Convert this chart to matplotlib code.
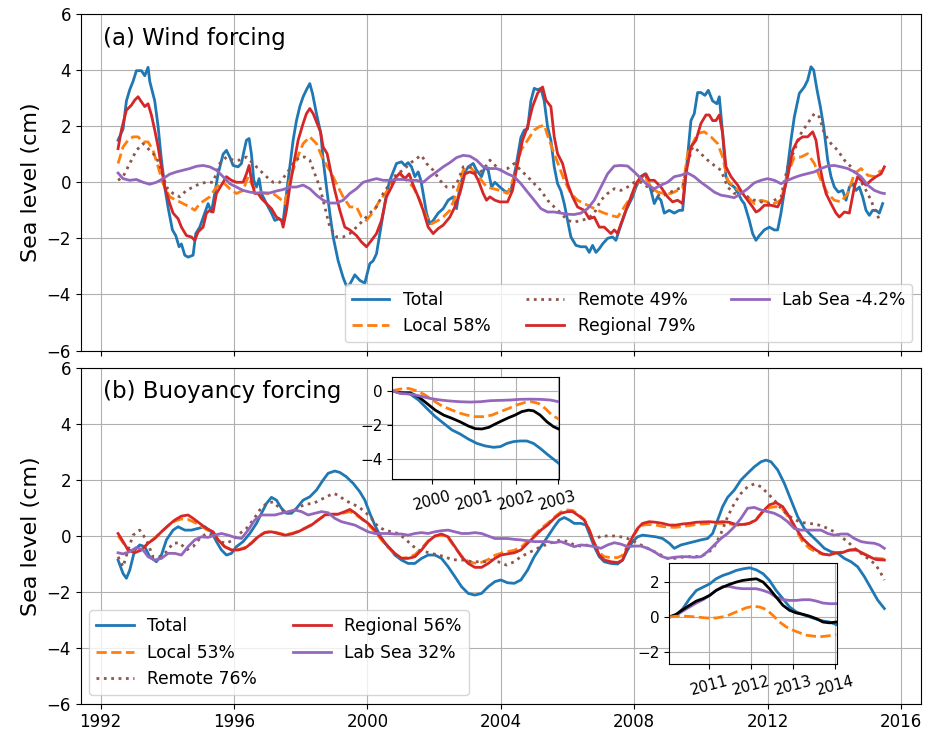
import numpy as np
import matplotlib
matplotlib.use("Agg")
import matplotlib.pyplot as plt

# ---------------- data: (year, sea level cm) ----------------
wind_total = [(1992.52,1.5),(1992.67,1.9),(1992.77,2.9),(1992.87,3.3),(1992.97,3.6),(1993.07,3.98),(1993.22,3.98),(1993.32,3.8),(1993.42,4.1),(1993.47,3.6),(1993.62,2.9),(1993.72,2.0),(1993.82,0.8),(1993.92,-0.17),(1994.02,-0.9),(1994.15,-1.7),(1994.25,-1.9),(1994.35,-2.3),(1994.42,-2.2),(1994.52,-2.6),(1994.62,-2.67),(1994.77,-2.6),(1994.85,-1.83),(1994.97,-1.6),(1995.12,-1.1),(1995.22,-0.76),(1995.32,-1.06),(1995.42,-0.4),(1995.52,0.3),(1995.67,1.0),(1995.77,1.14),(1995.87,0.9),(1995.97,0.6),(1996.12,0.55),(1996.22,0.67),(1996.29,1.08),(1996.37,1.5),(1996.45,1.56),(1996.52,1.0),(1996.59,0.07),(1996.67,-0.17),(1996.75,0.13),(1996.82,-0.4),(1996.97,-0.76),(1997.12,-1.1),(1997.22,-1.36),(1997.35,-1.3),(1997.47,-1.4),(1997.57,-0.4),(1997.67,0.55),(1997.77,1.5),(1997.87,2.2),(1997.97,2.7),(1998.07,3.05),(1998.17,3.3),(1998.27,3.52),(1998.35,3.17),(1998.47,2.45),(1998.60,1.74),(1998.67,0.8),(1998.77,-0.17),(1998.87,-1.1),(1998.97,-1.95),(1999.12,-2.8),(1999.27,-3.4),(1999.37,-3.7),(1999.47,-3.64),(1999.62,-3.3),(1999.77,-3.5),(1999.92,-3.6),(1999.99,-3.26),(2000.07,-2.9),(2000.17,-2.8),(2000.27,-2.55),(2000.37,-1.83),(2000.47,-1.1),(2000.57,-0.4),(2000.67,0.07),(2000.79,0.43),(2000.87,0.67),(2001.02,0.73),(2001.12,0.6),(2001.22,0.7),(2001.32,0.55),(2001.42,0.2),(2001.52,0.37),(2001.60,0.07),(2001.67,-0.4),(2001.77,-1.1),(2001.87,-1.48),(2001.97,-1.36),(2002.12,-1.1),(2002.27,-0.94),(2002.42,-0.64),(2002.57,-0.52),(2002.67,-0.94),(2002.77,-0.17),(2002.87,0.25),(2003.02,0.55),(2003.17,0.67),(2003.27,0.43),(2003.42,0.2),(2003.52,0.55),(2003.62,0.43),(2003.72,-0.17),(2003.82,0.0),(2003.97,-0.17),(2004.15,-0.35),(2004.30,-0.3),(2004.45,0.55),(2004.60,1.6),(2004.70,1.86),(2004.80,1.9),(2004.90,2.9),(2005.00,3.35),(2005.10,3.3),(2005.20,3.35),(2005.30,2.9),(2005.40,1.98),(2005.50,1.5),(2005.60,0.55),(2005.70,-0.05),(2005.80,-0.3),(2005.90,-0.76),(2006.00,-1.36),(2006.10,-1.95),(2006.25,-2.25),(2006.40,-2.3),(2006.55,-2.3),(2006.65,-2.5),(2006.75,-2.25),(2006.85,-2.5),(2006.95,-2.37),(2007.05,-2.2),(2007.20,-2.0),(2007.35,-1.95),(2007.45,-2.07),(2007.55,-1.7),(2007.65,-1.36),(2007.75,-1.0),(2007.85,-0.76),(2007.95,-0.52),(2008.05,-0.17),(2008.20,0.2),(2008.32,0.3),(2008.40,0.07),(2008.50,-0.29),(2008.60,-0.76),(2008.70,-0.52),(2008.80,-0.64),(2008.90,-1.1),(2009.05,-1.0),(2009.20,-1.1),(2009.35,-1.0),(2009.45,-1.0),(2009.55,0.3),(2009.70,2.2),(2009.80,2.45),(2009.90,3.2),(2010.00,3.2),(2010.12,3.1),(2010.22,3.28),(2010.35,2.9),(2010.48,2.8),(2010.55,3.05),(2010.65,1.74),(2010.75,0.2),(2010.85,-0.05),(2011.00,-0.17),(2011.12,-0.4),(2011.22,-0.64),(2011.30,-0.76),(2011.45,-1.36),(2011.55,-1.83),(2011.65,-2.07),(2011.75,-1.9),(2011.90,-1.7),(2012.05,-1.6),(2012.20,-1.7),(2012.30,-1.7),(2012.40,-1.1),(2012.55,0.07),(2012.70,1.5),(2012.80,2.33),(2012.95,3.17),(2013.10,3.4),(2013.20,3.64),(2013.30,4.12),(2013.38,4.0),(2013.48,3.3),(2013.58,2.7),(2013.68,1.98),(2013.80,0.8),(2013.90,0.2),(2014.00,-0.17),(2014.12,-0.35),(2014.25,-0.29),(2014.35,-0.64),(2014.45,-0.17),(2014.55,-0.05),(2014.65,-0.29),(2014.75,-0.17),(2014.85,-0.52),(2014.95,-1.0),(2015.05,-1.18),(2015.15,-1.0),(2015.25,-1.0),(2015.35,-1.1),(2015.45,-0.76)]

wind_local = [(1992.52,0.67),(1992.67,1.26),(1992.82,1.5),(1992.97,1.62),(1993.12,1.62),(1993.27,1.44),(1993.42,1.44),(1993.57,1.14),(1993.72,0.55),(1993.87,-0.05),(1994.07,-0.52),(1994.27,-0.64),(1994.47,-0.76),(1994.67,-0.88),(1994.82,-1.0),(1994.97,-0.76),(1995.12,-0.64),(1995.27,-0.52),(1995.47,-0.17),(1995.67,0.0),(1995.87,-0.23),(1996.07,-0.4),(1996.27,-0.29),(1996.42,0.2),(1996.57,-0.17),(1996.77,-0.35),(1996.97,-0.4),(1997.17,-0.4),(1997.37,-0.58),(1997.52,-0.76),(1997.67,0.07),(1997.87,0.8),(1998.07,1.38),(1998.27,1.62),(1998.47,1.38),(1998.67,0.8),(1998.87,0.43),(1999.07,-0.05),(1999.27,-0.52),(1999.47,-0.88),(1999.67,-0.88),(1999.82,-1.24),(1999.97,-1.36),(2000.17,-1.06),(2000.37,-0.64),(2000.57,-0.35),(2000.77,0.07),(2000.97,0.3),(2001.17,0.07),(2001.37,-0.17),(2001.57,-0.64),(2001.77,-1.24),(2001.92,-1.48),(2002.12,-1.36),(2002.27,-1.24),(2002.47,-1.0),(2002.67,-0.4),(2002.87,0.43),(2003.07,0.55),(2003.27,0.3),(2003.42,0.07),(2003.57,-0.17),(2003.77,-0.23),(2003.97,-0.29),(2004.2,-0.4),(2004.4,0.2),(2004.6,1.14),(2004.8,1.5),(2005.0,1.86),(2005.15,1.98),(2005.3,2.04),(2005.45,1.5),(2005.6,1.02),(2005.75,0.55),(2005.9,0.07),(2006.1,-0.4),(2006.3,-0.64),(2006.5,-0.76),(2006.7,-0.88),(2006.9,-1.0),(2007.1,-1.1),(2007.3,-1.18),(2007.5,-1.24),(2007.7,-0.88),(2007.9,-0.52),(2008.1,0.0),(2008.3,0.25),(2008.5,-0.17),(2008.7,-0.35),(2008.9,-0.4),(2009.1,-0.4),(2009.3,-0.29),(2009.45,-0.23),(2009.6,1.02),(2009.75,1.38),(2009.9,1.74),(2010.1,1.8),(2010.3,1.62),(2010.5,1.38),(2010.65,0.9),(2010.8,0.07),(2011.0,-0.17),(2011.2,-0.35),(2011.4,-0.52),(2011.6,-0.76),(2011.8,-0.64),(2012.0,-0.7),(2012.2,-0.76),(2012.4,-0.64),(2012.6,0.3),(2012.8,0.9),(2013.0,0.9),(2013.2,1.02),(2013.4,0.67),(2013.6,0.07),(2013.8,-0.4),(2014.0,-0.64),(2014.2,-0.7),(2014.4,-0.4),(2014.6,0.3),(2014.8,0.49),(2015.0,0.25),(2015.2,0.2),(2015.4,0.43)]

wind_remote = [(1992.52,0.07),(1992.67,0.2),(1992.87,0.67),(1993.07,1.14),(1993.27,1.38),(1993.47,1.14),(1993.67,0.9),(1993.82,0.43),(1993.97,-0.17),(1994.17,-0.4),(1994.37,-0.52),(1994.57,-0.29),(1994.77,-0.17),(1994.97,-0.05),(1995.17,0.0),(1995.37,0.0),(1995.57,0.67),(1995.77,0.9),(1995.97,0.79),(1996.17,0.79),(1996.37,0.9),(1996.57,0.67),(1996.77,0.43),(1996.97,0.2),(1997.17,0.0),(1997.37,0.0),(1997.57,0.3),(1997.77,0.67),(1997.97,0.9),(1998.12,0.9),(1998.27,0.79),(1998.42,0.3),(1998.57,-0.17),(1998.72,-0.88),(1998.87,-1.6),(1999.07,-1.95),(1999.27,-1.95),(1999.47,-1.83),(1999.67,-1.6),(1999.87,-1.36),(2000.07,-1.1),(2000.27,-0.88),(2000.47,-0.4),(2000.67,-0.05),(2000.87,0.3),(2001.07,0.43),(2001.27,0.67),(2001.47,0.85),(2001.62,0.96),(2001.77,0.67),(2001.97,0.43),(2002.17,0.07),(2002.37,-0.17),(2002.57,-0.17),(2002.72,0.07),(2002.87,0.55),(2003.07,0.55),(2003.27,0.3),(2003.47,0.43),(2003.67,0.79),(2003.87,0.55),(2004.0,0.43),(2004.2,0.49),(2004.4,0.67),(2004.6,0.43),(2004.8,0.2),(2005.0,-0.05),(2005.2,-0.29),(2005.4,-0.64),(2005.6,-0.88),(2005.8,-1.1),(2006.0,-1.36),(2006.2,-1.42),(2006.4,-1.36),(2006.6,-1.3),(2006.8,-1.1),(2007.0,-0.64),(2007.2,-0.4),(2007.4,-0.23),(2007.6,-0.29),(2007.8,-0.17),(2008.0,0.0),(2008.2,0.0),(2008.4,-0.17),(2008.6,-0.35),(2008.8,-0.52),(2009.0,-0.4),(2009.2,-0.29),(2009.45,-0.17),(2009.6,0.67),(2009.75,1.26),(2009.9,1.14),(2010.05,0.96),(2010.2,0.79),(2010.4,0.6),(2010.6,0.43),(2010.8,-0.17),(2011.0,-0.4),(2011.2,-0.35),(2011.4,-0.52),(2011.6,-0.64),(2011.8,-0.7),(2012.0,-0.76),(2012.2,-0.64),(2012.4,-0.52),(2012.6,0.55),(2012.8,1.14),(2013.0,1.74),(2013.2,2.1),(2013.4,2.45),(2013.55,2.33),(2013.7,1.74),(2013.9,1.38),(2014.1,1.14),(2014.3,0.79),(2014.5,0.55),(2014.7,0.2),(2014.9,-0.17),(2015.1,-0.64),(2015.25,-1.1),(2015.4,-1.42)]

wind_regional = [(1992.52,1.2),(1992.62,1.86),(1992.77,2.57),(1992.92,2.75),(1993.02,2.93),(1993.12,3.05),(1993.22,2.87),(1993.32,2.7),(1993.42,2.8),(1993.52,2.4),(1993.62,1.86),(1993.72,1.26),(1993.82,0.55),(1993.92,-0.17),(1994.07,-0.76),(1994.17,-1.1),(1994.32,-1.3),(1994.42,-1.6),(1994.57,-1.9),(1994.72,-1.95),(1994.82,-2.07),(1994.92,-1.77),(1995.07,-1.6),(1995.17,-1.1),(1995.27,-1.0),(1995.37,-1.06),(1995.47,-0.4),(1995.62,-0.1),(1995.77,0.2),(1995.92,0.07),(1996.07,0.0),(1996.27,0.0),(1996.37,0.3),(1996.45,0.6),(1996.52,0.07),(1996.62,-0.4),(1996.72,-0.4),(1996.82,-0.58),(1996.97,-0.76),(1997.12,-0.94),(1997.27,-1.24),(1997.42,-1.36),(1997.47,-1.6),(1997.57,-1.0),(1997.67,-0.17),(1997.79,0.67),(1997.92,1.5),(1998.07,2.1),(1998.17,2.45),(1998.27,2.63),(1998.37,2.45),(1998.49,2.1),(1998.59,1.8),(1998.67,1.26),(1998.79,1.02),(1998.89,0.43),(1999.02,-0.29),(1999.17,-1.0),(1999.32,-1.6),(1999.47,-1.7),(1999.67,-1.9),(1999.82,-2.13),(1999.97,-2.3),(2000.12,-2.07),(2000.27,-1.83),(2000.42,-1.36),(2000.57,-0.52),(2000.72,-0.17),(2000.87,0.2),(2000.97,0.33),(2001.12,0.13),(2001.25,0.3),(2001.37,-0.1),(2001.52,-0.52),(2001.67,-1.0),(2001.82,-1.6),(2001.97,-1.83),(2002.12,-1.65),(2002.27,-1.53),(2002.47,-1.24),(2002.62,-0.88),(2002.77,-0.4),(2002.92,0.3),(2003.07,0.37),(2003.22,0.3),(2003.32,0.07),(2003.47,-0.4),(2003.57,-0.64),(2003.67,-0.52),(2003.82,-0.64),(2003.97,-0.7),(2004.2,-0.7),(2004.35,-0.29),(2004.5,0.67),(2004.65,1.5),(2004.8,1.98),(2004.95,2.7),(2005.1,3.17),(2005.25,3.4),(2005.35,2.93),(2005.5,2.7),(2005.6,1.62),(2005.7,1.02),(2005.85,0.67),(2006.0,-0.05),(2006.15,-0.52),(2006.3,-0.88),(2006.5,-1.0),(2006.65,-1.3),(2006.8,-1.24),(2006.95,-1.6),(2007.1,-1.6),(2007.3,-1.83),(2007.4,-1.7),(2007.5,-1.83),(2007.6,-1.48),(2007.75,-1.0),(2007.9,-0.52),(2008.05,-0.05),(2008.2,0.2),(2008.35,0.3),(2008.45,0.07),(2008.6,0.07),(2008.8,-0.17),(2009.0,-0.52),(2009.15,-0.7),(2009.3,-0.64),(2009.45,-0.76),(2009.55,0.3),(2009.7,1.26),(2009.85,1.5),(2010.0,2.1),(2010.15,2.4),(2010.25,2.4),(2010.35,2.2),(2010.45,2.2),(2010.55,2.4),(2010.65,1.74),(2010.75,0.55),(2010.9,0.2),(2011.1,-0.1),(2011.25,-0.4),(2011.4,-0.64),(2011.55,-0.88),(2011.65,-1.06),(2011.75,-1.0),(2011.9,-0.82),(2012.1,-0.82),(2012.3,-0.88),(2012.45,-0.52),(2012.6,0.2),(2012.75,1.14),(2012.9,1.5),(2013.05,1.62),(2013.2,1.62),(2013.35,1.8),(2013.45,1.5),(2013.55,0.67),(2013.65,0.07),(2013.75,-0.4),(2013.9,-0.76),(2014.05,-1.1),(2014.15,-1.24),(2014.3,-1.06),(2014.45,-1.1),(2014.6,-0.17),(2014.7,0.2),(2014.8,0.07),(2014.95,-0.1),(2015.1,0.07),(2015.25,0.2),(2015.4,0.3),(2015.5,0.55)]

wind_labsea = [(1992.52,0.33),(1992.67,0.13),(1992.87,0.07),(1993.07,0.1),(1993.27,0.0),(1993.47,-0.07),(1993.67,0.0),(1993.87,0.13),(1994.07,0.29),(1994.27,0.37),(1994.47,0.43),(1994.67,0.49),(1994.87,0.57),(1995.07,0.6),(1995.27,0.55),(1995.47,0.43),(1995.67,0.2),(1995.87,-0.05),(1996.07,-0.17),(1996.27,-0.29),(1996.47,-0.35),(1996.67,-0.38),(1996.87,-0.38),(1997.07,-0.38),(1997.27,-0.31),(1997.47,-0.26),(1997.67,-0.17),(1997.87,-0.17),(1998.07,-0.1),(1998.27,-0.23),(1998.47,-0.46),(1998.67,-0.64),(1998.87,-0.74),(1999.07,-0.74),(1999.27,-0.64),(1999.47,-0.4),(1999.67,-0.23),(1999.87,0.0),(2000.07,0.07),(2000.27,0.13),(2000.47,0.07),(2000.67,0.07),(2000.87,0.1),(2001.07,0.1),(2001.27,0.07),(2001.47,0.07),(2001.67,0.0),(2001.87,0.2),(2002.07,0.37),(2002.27,0.55),(2002.47,0.7),(2002.67,0.88),(2002.87,0.96),(2003.07,0.93),(2003.27,0.79),(2003.47,0.55),(2003.67,0.49),(2003.87,0.49),(2004.0,0.43),(2004.2,0.3),(2004.4,0.2),(2004.6,-0.05),(2004.8,-0.35),(2005.0,-0.64),(2005.2,-0.94),(2005.4,-1.06),(2005.6,-1.06),(2005.8,-1.1),(2006.0,-1.14),(2006.2,-1.15),(2006.4,-1.1),(2006.6,-0.94),(2006.8,-0.64),(2007.0,-0.17),(2007.2,0.3),(2007.4,0.58),(2007.6,0.6),(2007.8,0.58),(2008.0,0.37),(2008.2,0.13),(2008.4,-0.1),(2008.6,-0.23),(2008.8,-0.1),(2009.0,0.0),(2009.2,0.2),(2009.4,0.25),(2009.6,0.33),(2009.8,0.2),(2010.0,0.0),(2010.2,-0.17),(2010.4,-0.35),(2010.6,-0.46),(2010.8,-0.5),(2011.0,-0.55),(2011.2,-0.4),(2011.4,-0.23),(2011.6,-0.02),(2011.8,0.07),(2012.0,0.13),(2012.2,0.07),(2012.4,-0.05),(2012.6,0.07),(2012.8,0.17),(2013.0,0.25),(2013.2,0.31),(2013.4,0.37),(2013.6,0.49),(2013.8,0.58),(2014.0,0.6),(2014.2,0.55),(2014.4,0.49),(2014.6,0.37),(2014.8,0.2),(2015.0,-0.1),(2015.2,-0.29),(2015.4,-0.38),(2015.5,-0.4)]

buoy_total = [(1992.52,-0.87),(1992.67,-1.35),(1992.77,-1.52),(1992.87,-1.23),(1993.02,-0.51),(1993.17,-0.33),(1993.32,-0.39),(1993.47,-0.75),(1993.67,-0.93),(1993.82,-0.69),(1993.97,-0.15),(1994.17,0.2),(1994.32,0.32),(1994.52,0.2),(1994.72,0.2),(1994.92,0.26),(1995.12,0.32),(1995.32,0.14),(1995.47,-0.21),(1995.62,-0.51),(1995.77,-0.69),(1995.92,-0.63),(1996.07,-0.39),(1996.27,-0.21),(1996.47,0.08),(1996.67,0.44),(1996.82,0.8),(1996.97,1.15),(1997.12,1.37),(1997.27,1.27),(1997.42,0.98),(1997.57,0.8),(1997.72,0.8),(1997.87,0.98),(1998.07,1.27),(1998.27,1.39),(1998.47,1.63),(1998.67,1.99),(1998.82,2.23),(1999.02,2.31),(1999.17,2.26),(1999.37,2.1),(1999.57,1.87),(1999.77,1.57),(1999.92,1.27),(2000.07,0.8),(2000.22,0.38),(2000.37,0.02),(2000.52,-0.27),(2000.67,-0.45),(2000.82,-0.69),(2001.02,-0.87),(2001.22,-0.99),(2001.42,-0.99),(2001.62,-0.81),(2001.82,-0.69),(2002.02,-0.69),(2002.22,-0.81),(2002.42,-1.11),(2002.62,-1.46),(2002.82,-1.82),(2003.02,-2.06),(2003.22,-2.12),(2003.42,-2.06),(2003.62,-1.82),(2003.82,-1.64),(2004.0,-1.58),(2004.2,-1.68),(2004.4,-1.7),(2004.6,-1.58),(2004.8,-1.23),(2005.0,-0.75),(2005.2,-0.39),(2005.4,-0.04),(2005.6,0.32),(2005.75,0.56),(2005.9,0.65),(2006.05,0.56),(2006.2,0.44),(2006.4,0.44),(2006.55,0.38),(2006.65,0.08),(2006.8,-0.39),(2006.95,-0.75),(2007.1,-0.93),(2007.3,-0.99),(2007.5,-1.01),(2007.65,-0.87),(2007.8,-0.51),(2007.95,-0.21),(2008.1,-0.04),(2008.25,0.02),(2008.45,-0.01),(2008.65,-0.04),(2008.85,-0.1),(2009.05,-0.27),(2009.2,-0.45),(2009.4,-0.33),(2009.6,-0.27),(2009.8,-0.21),(2010.0,-0.15),(2010.2,-0.1),(2010.35,0.08),(2010.5,0.56),(2010.65,1.04),(2010.8,1.37),(2011.0,1.63),(2011.2,1.99),(2011.4,2.23),(2011.6,2.46),(2011.8,2.64),(2011.95,2.7),(2012.1,2.64),(2012.3,2.35),(2012.5,1.87),(2012.7,1.27),(2012.9,0.68),(2013.1,0.26),(2013.3,0.02),(2013.5,-0.21),(2013.7,-0.45),(2013.9,-0.57),(2014.1,-0.63),(2014.3,-0.81),(2014.5,-0.93),(2014.7,-1.11),(2014.9,-1.46),(2015.1,-1.88),(2015.3,-2.3),(2015.5,-2.6)]

buoy_local = [(1992.52,0.0),(1992.67,-0.25),(1992.82,-0.5),(1993.02,-0.58),(1993.22,-0.5),(1993.42,-0.27),(1993.62,-0.08),(1993.82,0.14),(1994.02,0.35),(1994.22,0.52),(1994.42,0.6),(1994.62,0.58),(1994.77,0.5),(1994.97,0.38),(1995.17,0.22),(1995.37,0.1),(1995.52,-0.15),(1995.72,-0.4),(1995.92,-0.5),(1996.12,-0.5),(1996.32,-0.42),(1996.52,-0.25),(1996.72,-0.02),(1996.92,0.12),(1997.12,0.16),(1997.32,0.1),(1997.52,0.04),(1997.72,0.08),(1997.92,0.16),(1998.12,0.27),(1998.32,0.4),(1998.52,0.56),(1998.72,0.72),(1998.92,0.76),(1999.12,0.76),(1999.32,0.82),(1999.47,0.86),(1999.62,0.78),(1999.82,0.6),(2000.02,0.4),(2000.22,0.15),(2000.42,-0.15),(2000.62,-0.42),(2000.82,-0.66),(2001.02,-0.8),(2001.22,-0.78),(2001.42,-0.68),(2001.62,-0.45),(2001.82,-0.18),(2002.02,-0.02),(2002.22,0.02),(2002.42,-0.08),(2002.62,-0.42),(2002.82,-0.72),(2003.02,-0.92),(2003.22,-0.98),(2003.42,-0.95),(2003.62,-0.85),(2003.82,-0.7),(2004.07,-0.6),(2004.2,-0.57),(2004.4,-0.52),(2004.6,-0.42),(2004.8,-0.2),(2005.0,0.02),(2005.2,0.26),(2005.4,0.44),(2005.6,0.66),(2005.8,0.85),(2006.0,0.92),(2006.15,0.9),(2006.3,0.78),(2006.5,0.58),(2006.65,0.22),(2006.8,-0.25),(2006.95,-0.6),(2007.1,-0.75),(2007.3,-0.78),(2007.5,-0.78),(2007.65,-0.7),(2007.8,-0.35),(2007.95,-0.05),(2008.1,0.22),(2008.25,0.38),(2008.45,0.4),(2008.65,0.38),(2008.85,0.33),(2009.05,0.3),(2009.25,0.3),(2009.45,0.33),(2009.65,0.36),(2009.85,0.4),(2010.05,0.42),(2010.25,0.44),(2010.45,0.44),(2010.65,0.44),(2010.85,0.42),(2011.05,0.38),(2011.25,0.38),(2011.45,0.44),(2011.65,0.58),(2011.85,0.85),(2012.05,1.0),(2012.25,1.04),(2012.45,0.95),(2012.65,0.62),(2012.85,0.2),(2013.05,-0.21),(2013.25,-0.45),(2013.45,-0.58),(2013.65,-0.66),(2013.85,-0.68),(2014.05,-0.62),(2014.25,-0.58),(2014.45,-0.52),(2014.65,-0.52),(2014.85,-0.62),(2015.05,-0.74),(2015.25,-0.8),(2015.5,-0.83)]

buoy_remote = [(1992.52,-0.75),(1992.67,-1.11),(1992.82,-0.51),(1992.97,0.02),(1993.17,0.2),(1993.37,-0.15),(1993.57,-0.75),(1993.77,-0.75),(1993.97,-0.57),(1994.17,-0.27),(1994.37,-0.25),(1994.57,-0.51),(1994.77,-0.39),(1994.97,-0.1),(1995.17,0.08),(1995.37,0.02),(1995.57,-0.21),(1995.77,-0.27),(1995.97,-0.15),(1996.17,0.08),(1996.37,0.26),(1996.57,0.56),(1996.77,0.92),(1996.97,1.15),(1997.17,1.21),(1997.37,0.98),(1997.57,0.8),(1997.77,0.86),(1997.97,1.04),(1998.17,1.13),(1998.37,1.15),(1998.57,1.27),(1998.77,1.39),(1998.97,1.51),(1999.12,1.45),(1999.32,1.27),(1999.52,1.15),(1999.72,1.04),(1999.92,0.86),(2000.12,0.62),(2000.32,0.32),(2000.52,0.2),(2000.72,0.14),(2000.92,0.08),(2001.12,-0.1),(2001.32,-0.33),(2001.52,-0.51),(2001.72,-0.57),(2001.92,-0.63),(2002.12,-0.69),(2002.32,-0.75),(2002.52,-0.85),(2002.72,-0.87),(2002.92,-0.87),(2003.12,-0.93),(2003.32,-0.93),(2003.52,-0.93),(2003.72,-0.87),(2003.92,-0.93),(2004.17,-1.05),(2004.4,-0.93),(2004.6,-0.75),(2004.8,-0.63),(2005.0,-0.51),(2005.2,-0.39),(2005.4,-0.3),(2005.6,-0.21),(2005.8,-0.15),(2006.0,-0.21),(2006.2,-0.33),(2006.4,-0.37),(2006.6,-0.33),(2006.8,-0.15),(2007.0,-0.01),(2007.2,-0.01),(2007.4,-0.01),(2007.6,-0.04),(2007.8,-0.1),(2008.0,-0.21),(2008.2,-0.33),(2008.4,-0.45),(2008.6,-0.57),(2008.8,-0.69),(2009.0,-0.81),(2009.2,-0.81),(2009.4,-0.77),(2009.6,-0.75),(2009.8,-0.75),(2010.0,-0.73),(2010.2,-0.63),(2010.4,-0.39),(2010.6,0.08),(2010.8,0.68),(2011.0,1.15),(2011.2,1.51),(2011.4,1.75),(2011.6,1.85),(2011.8,1.75),(2012.0,1.51),(2012.2,1.27),(2012.4,0.98),(2012.6,0.74),(2012.8,0.58),(2013.0,0.48),(2013.2,0.44),(2013.4,0.42),(2013.6,0.36),(2013.8,0.26),(2014.0,0.14),(2014.2,-0.04),(2014.4,-0.21),(2014.6,-0.45),(2014.8,-0.63),(2015.0,-0.81),(2015.2,-0.99),(2015.35,-1.23),(2015.5,-1.58)]

buoy_regional = [(1992.52,0.08),(1992.67,-0.21),(1992.82,-0.51),(1993.02,-0.61),(1993.22,-0.51),(1993.42,-0.27),(1993.62,-0.1),(1993.82,0.14),(1994.02,0.36),(1994.22,0.56),(1994.42,0.7),(1994.62,0.74),(1994.77,0.62),(1994.97,0.44),(1995.17,0.26),(1995.37,0.14),(1995.52,-0.15),(1995.72,-0.39),(1995.92,-0.51),(1996.12,-0.51),(1996.32,-0.45),(1996.52,-0.27),(1996.72,-0.04),(1996.92,0.11),(1997.12,0.14),(1997.32,0.08),(1997.52,0.02),(1997.72,0.06),(1997.92,0.14),(1998.12,0.26),(1998.32,0.38),(1998.52,0.56),(1998.72,0.74),(1998.92,0.77),(1999.12,0.77),(1999.32,0.86),(1999.47,0.94),(1999.62,0.82),(1999.82,0.62),(2000.02,0.44),(2000.22,0.2),(2000.42,-0.1),(2000.62,-0.39),(2000.82,-0.63),(2001.02,-0.81),(2001.22,-0.81),(2001.42,-0.75),(2001.62,-0.51),(2001.82,-0.21),(2002.02,-0.01),(2002.22,0.06),(2002.42,-0.04),(2002.62,-0.39),(2002.82,-0.75),(2003.02,-0.99),(2003.22,-1.13),(2003.42,-1.13),(2003.62,-0.99),(2003.82,-0.81),(2004.0,-0.69),(2004.2,-0.65),(2004.4,-0.61),(2004.6,-0.51),(2004.8,-0.27),(2005.0,-0.04),(2005.2,0.2),(2005.4,0.38),(2005.6,0.62),(2005.8,0.8),(2006.0,0.86),(2006.15,0.86),(2006.3,0.74),(2006.5,0.56),(2006.65,0.2),(2006.8,-0.27),(2006.95,-0.69),(2007.1,-0.87),(2007.3,-0.93),(2007.5,-0.96),(2007.65,-0.87),(2007.8,-0.39),(2007.95,-0.04),(2008.1,0.26),(2008.25,0.44),(2008.45,0.5),(2008.65,0.48),(2008.85,0.44),(2009.05,0.38),(2009.25,0.38),(2009.45,0.42),(2009.65,0.44),(2009.85,0.48),(2010.05,0.49),(2010.25,0.5),(2010.45,0.48),(2010.65,0.5),(2010.85,0.48),(2011.05,0.4),(2011.25,0.4),(2011.45,0.44),(2011.65,0.56),(2011.85,0.86),(2012.05,1.1),(2012.25,1.18),(2012.45,1.04),(2012.65,0.68),(2012.85,0.26),(2013.05,-0.1),(2013.25,-0.33),(2013.45,-0.51),(2013.65,-0.65),(2013.85,-0.69),(2014.05,-0.61),(2014.25,-0.6),(2014.45,-0.51),(2014.65,-0.49),(2014.85,-0.63),(2015.05,-0.75),(2015.25,-0.85),(2015.5,-0.87)]

buoy_labsea = [(1992.52,-0.61),(1992.67,-0.65),(1992.87,-0.57),(1993.07,-0.42),(1993.27,-0.51),(1993.42,-0.75),(1993.62,-0.87),(1993.82,-0.81),(1994.02,-0.63),(1994.22,-0.63),(1994.42,-0.69),(1994.62,-0.39),(1994.82,-0.15),(1995.02,-0.04),(1995.22,-0.06),(1995.42,0.02),(1995.62,0.08),(1995.82,0.02),(1996.02,-0.06),(1996.22,-0.1),(1996.42,0.2),(1996.62,0.56),(1996.82,0.74),(1997.02,0.74),(1997.22,0.74),(1997.42,0.8),(1997.62,0.86),(1997.82,0.92),(1998.02,0.86),(1998.22,0.74),(1998.42,0.8),(1998.62,0.86),(1998.82,0.82),(1999.02,0.62),(1999.22,0.5),(1999.42,0.44),(1999.62,0.38),(1999.82,0.26),(2000.02,0.14),(2000.22,0.08),(2000.42,0.08),(2000.62,0.08),(2000.82,0.06),(2001.02,0.06),(2001.22,0.02),(2001.42,0.08),(2001.62,0.11),(2001.82,0.08),(2002.02,0.14),(2002.22,0.18),(2002.42,0.2),(2002.62,0.14),(2002.82,0.08),(2003.02,0.08),(2003.22,0.11),(2003.42,0.08),(2003.62,-0.01),(2003.82,-0.1),(2004.0,-0.1),(2004.2,-0.1),(2004.4,-0.13),(2004.6,-0.15),(2004.8,-0.18),(2005.0,-0.21),(2005.2,-0.21),(2005.4,-0.21),(2005.6,-0.25),(2005.8,-0.21),(2006.0,-0.3),(2006.2,-0.39),(2006.4,-0.33),(2006.6,-0.35),(2006.8,-0.39),(2007.0,-0.45),(2007.2,-0.33),(2007.4,-0.25),(2007.6,-0.3),(2007.8,-0.39),(2008.0,-0.37),(2008.2,-0.37),(2008.4,-0.45),(2008.6,-0.57),(2008.8,-0.73),(2009.0,-0.81),(2009.2,-0.77),(2009.4,-0.75),(2009.6,-0.75),(2009.8,-0.77),(2010.0,-0.75),(2010.2,-0.57),(2010.4,-0.33),(2010.6,-0.1),(2010.8,0.08),(2011.0,0.32),(2011.2,0.62),(2011.4,0.98),(2011.6,1.01),(2011.8,0.92),(2012.0,0.86),(2012.2,0.8),(2012.4,0.68),(2012.6,0.5),(2012.8,0.26),(2013.0,0.2),(2013.2,0.2),(2013.4,0.2),(2013.6,0.2),(2013.8,0.08),(2014.0,0.02),(2014.2,0.06),(2014.4,0.06),(2014.6,-0.1),(2014.8,-0.21),(2015.0,-0.25),(2015.2,-0.27),(2015.35,-0.33),(2015.5,-0.45)]

# inset 1 (1999-2003), cumulative
in1_total = [(1999.05,0.0),(1999.25,-0.12),(1999.48,-0.19),(1999.68,-0.54),(1999.88,-1.03),(2000.08,-1.51),(2000.28,-1.9),(2000.48,-2.29),(2000.67,-2.52),(2000.87,-2.82),(2001.07,-3.07),(2001.27,-3.22),(2001.47,-3.3),(2001.63,-3.26),(2001.79,-3.07),(2001.94,-2.97),(2002.1,-2.93),(2002.26,-2.93),(2002.42,-3.07),(2002.58,-3.36),(2002.74,-3.69),(2002.9,-4.0),(2003.02,-4.23)]
in1_black = [(1999.05,0.0),(1999.25,-0.12),(1999.48,-0.12),(1999.68,-0.35),(1999.88,-0.74),(2000.08,-1.13),(2000.28,-1.42),(2000.48,-1.61),(2000.67,-1.81),(2000.87,-2.06),(2001.03,-2.21),(2001.19,-2.23),(2001.35,-2.14),(2001.51,-1.94),(2001.67,-1.75),(2001.83,-1.57),(2001.98,-1.42),(2002.14,-1.22),(2002.3,-1.13),(2002.42,-1.17),(2002.58,-1.42),(2002.74,-1.81),(2002.9,-2.1),(2003.02,-2.23)]
in1_local = [(1999.05,0.0),(1999.25,0.1),(1999.44,0.14),(1999.64,0.0),(1999.84,-0.25),(2000.04,-0.58),(2000.24,-0.89),(2000.44,-1.09),(2000.63,-1.28),(2000.83,-1.42),(2001.03,-1.51),(2001.23,-1.51),(2001.43,-1.42),(2001.63,-1.22),(2001.83,-1.03),(2002.02,-0.83),(2002.22,-0.68),(2002.38,-0.64),(2002.54,-0.74),(2002.7,-1.03),(2002.86,-1.42),(2003.02,-1.65)]
in1_labsea = [(1999.05,0.0),(1999.25,-0.16),(1999.48,-0.19),(1999.72,-0.31),(1999.96,-0.45),(2000.2,-0.54),(2000.44,-0.6),(2000.67,-0.64),(2000.91,-0.66),(2001.15,-0.64),(2001.39,-0.58),(2001.63,-0.56),(2001.87,-0.54),(2002.1,-0.5),(2002.34,-0.49),(2002.58,-0.5),(2002.82,-0.54),(2003.02,-0.64)]

# inset 2 (2010-2014), cumulative
in2_total = [(2010.06,0.0),(2010.22,0.1),(2010.38,0.48),(2010.54,1.05),(2010.7,1.52),(2010.86,1.71),(2011.02,1.9),(2011.17,2.19),(2011.33,2.38),(2011.49,2.51),(2011.65,2.67),(2011.81,2.76),(2011.97,2.82),(2012.13,2.7),(2012.29,2.48),(2012.44,2.1),(2012.6,1.52),(2012.76,1.05),(2012.92,0.57),(2013.08,0.29),(2013.24,0.13),(2013.4,0.0),(2013.56,-0.13),(2013.71,-0.23),(2013.87,-0.29),(2014.03,-0.44)]
in2_black = [(2010.06,0.0),(2010.22,0.15),(2010.38,0.42),(2010.54,0.67),(2010.7,0.91),(2010.86,1.05),(2011.02,1.24),(2011.17,1.52),(2011.33,1.71),(2011.49,1.87),(2011.65,2.0),(2011.81,2.1),(2011.97,2.15),(2012.13,2.19),(2012.29,2.0),(2012.44,1.62),(2012.6,1.14),(2012.76,0.67),(2012.92,0.38),(2013.08,0.23),(2013.24,0.15),(2013.4,0.04),(2013.56,-0.1),(2013.71,-0.29),(2013.87,-0.34),(2014.03,-0.29)]
in2_local = [(2010.06,0.0),(2010.22,0.04),(2010.46,0.04),(2010.7,0.0),(2010.94,-0.06),(2011.17,-0.06),(2011.41,0.04),(2011.65,0.29),(2011.89,0.53),(2012.05,0.61),(2012.21,0.57),(2012.37,0.42),(2012.52,0.1),(2012.68,-0.29),(2012.84,-0.57),(2013.0,-0.76),(2013.16,-0.91),(2013.32,-1.05),(2013.48,-1.1),(2013.63,-1.14),(2013.79,-1.1),(2013.95,-1.05),(2014.03,-1.01)]
in2_labsea = [(2010.06,0.0),(2010.22,0.1),(2010.38,0.34),(2010.54,0.57),(2010.7,0.8),(2010.86,0.99),(2011.02,1.24),(2011.17,1.52),(2011.33,1.75),(2011.49,1.75),(2011.65,1.66),(2011.81,1.62),(2011.97,1.62),(2012.13,1.62),(2012.29,1.52),(2012.44,1.39),(2012.6,1.14),(2012.76,0.99),(2012.92,0.95),(2013.08,0.95),(2013.24,0.99),(2013.4,0.99),(2013.56,0.91),(2013.71,0.8),(2013.87,0.76),(2014.03,0.76)]

wind_labels = ["Total", "Local 58%", "Remote 49%", "Regional 79%", "Lab Sea -4.2%"]
buoy_labels = ["Total", "Local 53%", "Remote 76%", "Regional 56%", "Lab Sea 32%"]
year_ticks = [1992, 1996, 2000, 2004, 2008, 2012, 2016]
level_ticks = [-6, -4, -2, 0, 2, 4, 6]

# ---------------- styling ----------------
styles = [dict(color="#1f77b4", ls="-"), dict(color="#ff7f0e", ls="--"),
          dict(color="#8c564b", ls=":"), dict(color="#d62728", ls="-"),
          dict(color="#9467bd", ls="-")]
LW = 2.0


def xy(series):
    a = np.array(series)
    return a[:, 0], a[:, 1]


fig = plt.figure(figsize=(9.31, 7.31), dpi=100)
ax1 = fig.add_axes([0.0867, 0.5205, 0.9026, 0.4603])
ax2 = fig.add_axes([0.0867, 0.0373, 0.9026, 0.4597], sharex=ax1)

for ax, series, labels, title in [
        (ax1, [wind_total, wind_local, wind_remote, wind_regional, wind_labsea], wind_labels, "(a) Wind forcing"),
        (ax2, [buoy_total, buoy_local, buoy_remote, buoy_regional, buoy_labsea], buoy_labels, "(b) Buoyancy forcing")]:
    for s, lab, st in zip(series, labels, styles):
        x, y = xy(s)
        ax.plot(x, y, lw=LW, label=lab, **st)
    ax.set_ylim(-6, 6)
    ax.set_yticks(level_ticks)
    ax.set_xlim(1991.4, 2016.6)
    ax.set_xticks(year_ticks)
    ax.grid(True, color="#b0b0b0", lw=0.8)
    ax.tick_params(labelsize=12)
    ax.set_ylabel("Sea level (cm)", fontsize=16)
    ax.text(0.026, 0.962, title, transform=ax.transAxes, fontsize=16.5, va="top", ha="left")

plt.setp(ax1.get_xticklabels(), visible=False)
leg_kw = dict(fontsize=12.3, handlelength=2.2, columnspacing=2.1)
ax1.legend(loc="lower right", ncol=3, **leg_kw)
ax2.legend(loc="lower left", ncol=2, **leg_kw)

# insets
in1 = fig.add_axes([0.4211, 0.3447, 0.1794, 0.1395])
for s, st in [(in1_total, styles[0]), (in1_black, dict(color="k", ls="-")),
              (in1_local, styles[1]), (in1_labsea, styles[4])]:
    x, y = xy(s)
    in1.plot(x, y, lw=LW, **st)
in1.set_xlim(1999.05, 2003.03)
in1.set_ylim(-5.15, 0.8)
in1.set_xticks([2000, 2001, 2002, 2003])
in1.set_yticks([-4, -2, 0])

in2 = fig.add_axes([0.7186, 0.0917, 0.1805, 0.1382])
for s, st in [(in2_total, styles[0]), (in2_labsea, styles[4]),
              (in2_black, dict(color="k", ls="-")), (in2_local, styles[1])]:
    x, y = xy(s)
    in2.plot(x, y, lw=LW, **st)
in2.set_xlim(2010.05, 2014.05)
in2.set_ylim(-2.7, 3.1)
in2.set_xticks([2011, 2012, 2013, 2014])
in2.set_yticks([-2, 0, 2])

for ia in (in1, in2):
    ia.grid(True, color="#b0b0b0", lw=0.8)
    ia.tick_params(labelsize=11)
    for lab in ia.get_xticklabels():
        lab.set_rotation(15)

fig.savefig("out.png", dpi=100)
